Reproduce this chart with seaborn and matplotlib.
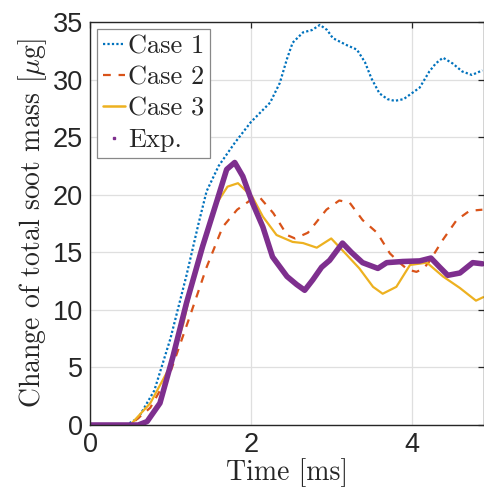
import matplotlib
matplotlib.use("Agg")
import matplotlib.pyplot as plt
from matplotlib.lines import Line2D
import seaborn as sns
import pandas as pd

# ---- data ----
t_case1 = [0, 0.45, 0.6, 0.8, 1.0, 1.2, 1.35, 1.45, 1.6, 1.8, 2.0, 2.24, 2.36, 2.45, 2.52,
           2.65, 2.76, 2.86, 2.95, 3.02, 3.19, 3.32, 3.42, 3.5, 3.6, 3.7, 3.79, 3.9, 3.98,
           4.1, 4.22, 4.3, 4.39, 4.51, 4.63, 4.75, 4.88]
y_case1 = [0, 0, 0.6, 3, 7.5, 13, 17.5, 20.3, 22.5, 24.5, 26.3, 28, 29.7, 31.8, 33.2,
           34.1, 34.3, 34.75, 34.3, 33.6, 33.0, 32.6, 31.5, 30.1, 28.8, 28.3, 28.15, 28.3, 28.7,
           29.3, 30.7, 31.4, 31.9, 31.4, 30.7, 30.4, 30.8]

t_case2 = [0, 0.5, 0.75, 1.0, 1.24, 1.45, 1.65, 1.83, 1.99, 2.12, 2.28, 2.45, 2.55, 2.71,
           2.94, 3.1, 3.23, 3.39, 3.57, 3.73, 3.85, 3.95, 4.06, 4.15, 4.22, 4.39, 4.56, 4.72, 4.88]
y_case2 = [0, 0, 1.5, 4.6, 9.4, 13.7, 17.2, 18.7, 19.5, 19.7, 18.4, 16.5, 16.2, 16.7,
           18.7, 19.5, 19.3, 17.8, 16.7, 14.9, 14.1, 13.5, 13.3, 13.6, 14.2, 16.1, 17.8, 18.6, 18.7]

t_case3 = [0, 0.5, 0.75, 0.99, 1.16, 1.37, 1.58, 1.71, 1.84, 2.02, 2.15, 2.32, 2.52, 2.65,
           2.82, 3.0, 3.19, 3.35, 3.52, 3.64, 3.81, 3.98, 4.19, 4.39, 4.6, 4.8, 4.89]
y_case3 = [0, 0, 1.9, 5.0, 8.8, 15.2, 19.3, 20.7, 21.0, 19.8, 18.1, 16.5, 15.9, 15.8,
           15.4, 16.2, 14.8, 13.6, 12.0, 11.4, 12.0, 13.9, 14.1, 12.9, 11.9, 10.8, 11.1]

t_exp = [0, 0.6, 0.71, 0.87, 1.03, 1.2, 1.4, 1.58, 1.70, 1.80, 1.9, 2.02, 2.15, 2.27, 2.45,
         2.57, 2.67, 2.77, 2.88, 2.98, 3.14, 3.25, 3.39, 3.58, 3.69, 3.89, 4.1, 4.24, 4.35,
         4.45, 4.6, 4.76, 4.88]
y_exp = [0, 0, 0.3, 1.9, 5.9, 10.6, 15.5, 19.5, 22.2, 22.8, 21.6, 19.3, 17.2, 14.6, 12.9,
         12.2, 11.7, 12.6, 13.7, 14.3, 15.8, 15.0, 14.1, 13.6, 14.1, 14.2, 14.25, 14.5, 13.7,
         13.0, 13.2, 14.1, 14.0]

labels = ["Case 1", "Case 2", "Case 3", "Exp."]
x_ticks = [0, 2, 4]
y_ticks = [0, 5, 10, 15, 20, 25, 30, 35]

# ---- styling ----
sns.set_style("whitegrid")
plt.rcParams["mathtext.fontset"] = "cm"
plt.rcParams["font.family"] = ["Liberation Sans", "DejaVu Sans"]

fig = plt.figure(figsize=(4.84, 4.93), dpi=100)
ax = fig.add_axes([90 / 484, 68 / 493, 394 / 484, 403 / 493])

c1, c2, c3, ce = "#0072BD", "#D95319", "#EDB120", "#7E2F8E"

df1 = pd.DataFrame({"t": t_case1, "y": y_case1})
df2 = pd.DataFrame({"t": t_case2, "y": y_case2})
df3 = pd.DataFrame({"t": t_case3, "y": y_case3})
dfe = pd.DataFrame({"t": t_exp, "y": y_exp})

sns.lineplot(data=df1, x="t", y="y", ax=ax, color=c1, lw=1.6, linestyle=(0, (1, 1)), sort=False)
sns.lineplot(data=df2, x="t", y="y", ax=ax, color=c2, lw=1.6, linestyle=(0, (3.5, 3.5)), sort=False)
sns.lineplot(data=df3, x="t", y="y", ax=ax, color=c3, lw=1.6, sort=False)
sns.lineplot(data=dfe, x="t", y="y", ax=ax, color=ce, lw=4.0, sort=False,
             solid_capstyle="round", solid_joinstyle="round")

ax.set_xlim(0, 4.9)
ax.set_ylim(0, 35)
ax.set_xticks(x_ticks)
ax.set_yticks(y_ticks)
ax.grid(True, color="#dfdfdf", lw=0.9)
ax.set_facecolor("white")
for s in ax.spines.values():
    s.set_color("#262626")
    s.set_linewidth(1.0)
ax.tick_params(direction="in", length=4, width=0.9, colors="#262626",
               top=True, right=True, labelsize=19.5, pad=5)
for lab in ax.get_xticklabels() + ax.get_yticklabels():
    lab.set_color("#262626")

ax.set_xlabel("Time [ms]", fontsize=20, family="cmr10", color="#262626", labelpad=0)
ax.set_ylabel(r"Change of total soot mass [$\mu$g]", fontsize=20, family="cmr10",
              color="#262626", labelpad=3)

handles = [
    Line2D([], [], color=c1, lw=1.6, linestyle=(0, (1, 1))),
    Line2D([], [], color=c2, lw=1.6, linestyle=(0, (3.5, 3.5))),
    Line2D([], [], color=c3, lw=1.8),
    Line2D([], [], color=ce, lw=0, marker="s", markersize=1.8),
]
leg = ax.legend(handles, labels, loc="upper left", bbox_to_anchor=(0.018, 0.983),
                borderaxespad=0, frameon=True, fancybox=False, framealpha=1,
                edgecolor="#888888", prop={"family": "cmr10", "size": 19},
                handlelength=0.85, handletextpad=0.1, labelspacing=0.28,
                borderpad=0.22)
leg.get_frame().set_linewidth(0.9)

fig.savefig("out.png", dpi=100)
